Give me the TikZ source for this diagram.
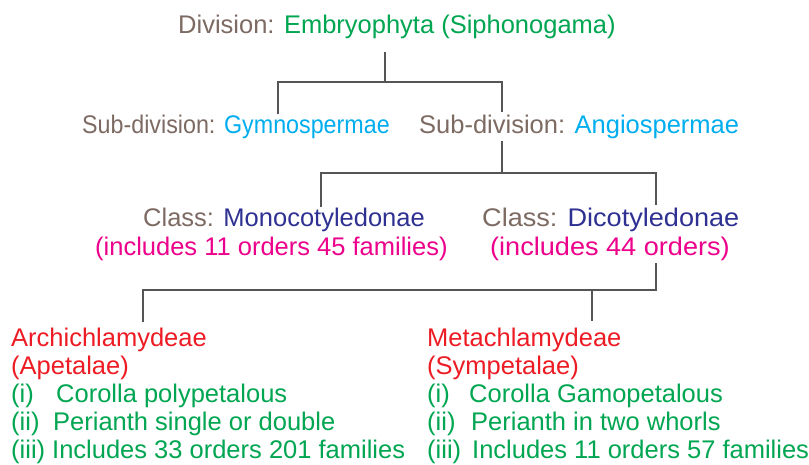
\documentclass[tikz,border=0pt]{standalone}
\usepackage{fontspec}
\setmainfont{Liberation Sans}
\usetikzlibrary{backgrounds}
\definecolor{labc}{HTML}{7D6B63}
\definecolor{grnc}{HTML}{00A651}
\definecolor{cyanc}{HTML}{00AEEF}
\definecolor{bluec}{HTML}{2E3192}
\definecolor{magc}{HTML}{EC008C}
\definecolor{redc}{HTML}{ED1C24}
\definecolor{linec}{HTML}{555555}
\begin{document}
\begin{tikzpicture}[x=1pt,y=-1pt,
  txt/.style={font=\fontsize{25.5}{28}\selectfont, inner sep=0pt, anchor=base west},
  conn/.style={draw=linec, line width=1.1pt},
  blank/.style={fill=white, inner sep=3pt}]
\useasboundingbox (0,0) rectangle (809,464);

% top
\node[txt] (div) at (178,33) {\textcolor{labc}{Division:} \textcolor{grnc}{Embryophyta (Siphonogama)}};
% sub-divisions
\node[txt] (gym) at (82,133) {\scalebox{0.913}[1]{\textcolor{labc}{Sub-division:} \textcolor{cyanc}{Gymnospermae}}};
\node[txt,blank] (ang) at (416,133) {\textcolor{labc}{Sub-division:} \textcolor{cyanc}{Angiospermae}};
% classes
\node[txt] (mono) at (143,226) {\textcolor{labc}{Class:} \textcolor{bluec}{Monocotyledonae}};
\node[txt] (monoi) at (95,255) {\textcolor{magc}{(includes 11 orders 45 families)}};
\node[txt,blank] (dico) at (479,226) {\scalebox{1.063}[1]{\textcolor{labc}{Class:} \textcolor{bluec}{Dicotyledonae}}};
\node[txt,blank] (dicoi) at (487,255) {\scalebox{1.063}[1]{\textcolor{magc}{(includes 44 orders)}}};
% sub-classes left
\node[txt,text=redc] (a1) at (11,346) {Archichlamydeae};
\node[txt,text=redc] (a2) at (11,374) {(Apetalae)};
\node[txt,text=grnc] (a3) at (11,402) {\makebox[45pt][l]{(i)}Corolla polypetalous};
\node[txt,text=grnc] (a4) at (11,430) {\makebox[42pt][l]{(ii)}Perianth single or double};
\node[txt,text=grnc] (a5) at (11,458) {\makebox[41pt][l]{(iii)}Includes 33 orders 201 families};
% sub-classes right
\node[txt,text=redc] (m1) at (427,346) {Metachlamydeae};
\node[txt,text=redc] (m2) at (427,374) {(Sympetalae)};
\node[txt,text=grnc] (m3) at (427,402) {\makebox[42pt][l]{(i)}Corolla Gamopetalous};
\node[txt,text=grnc] (m4) at (427,430) {\makebox[44pt][l]{(ii)}Perianth in two whorls};
\node[txt,text=grnc] (m5) at (427,458) {\makebox[45pt][l]{(iii)}Includes 11 orders 57 families};

\begin{scope}[on background layer]
\fill[white] (0,0) rectangle (809,464);
\coordinate (j0) at (385,52);
\coordinate (j1) at (385,82);
\coordinate (jl) at (278,82);
\coordinate (jr) at (502,82);
\coordinate (k1) at (502,173);
\coordinate (kl) at (321,173);
\coordinate (kr) at (656,173);
\coordinate (m0) at (656,290);
\coordinate (ml) at (143,290);
\coordinate (mr) at (592,290);
\draw[conn] (j0) -- (j1);
\draw[conn] (jl |- gym.north) -- (jl) -- (jr) -- (k1);
\draw[conn] (kl |- mono.north) -- (kl) -- (kr) -- (m0) -- (ml) -- ++(0,32);
\draw[conn] (mr) -- ++(0,31);
\end{scope}
\end{tikzpicture}
\end{document}
